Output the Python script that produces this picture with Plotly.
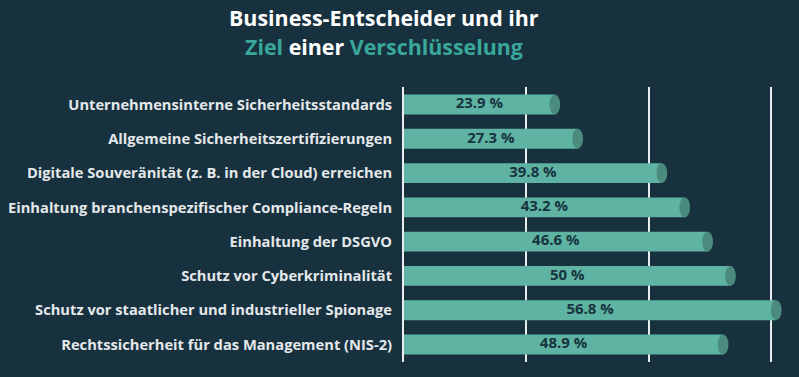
import plotly.graph_objects as go

categories = [
    "Unternehmensinterne Sicherheitsstandards",
    "Allgemeine Sicherheitszertifizierungen",
    "Digitale Souveränität (z. B. in der Cloud) erreichen",
    "Einhaltung branchenspezifischer Compliance-Regeln",
    "Einhaltung der DSGVO",
    "Schutz vor Cyberkriminalität",
    "Schutz vor staatlicher und industrieller Spionage",
    "Rechtssicherheit für das Management (NIS-2)",
]
values = [23.9, 27.3, 39.8, 43.2, 46.6, 50, 56.8, 48.9]
value_labels = ["23.9 %", "27.3 %", "39.8 %", "43.2 %", "46.6 %", "50 %", "56.8 %", "48.9 %"]
grid_vals = [19.6, 37.9, 56.0]

BG = "#17313f"
BAR = "#5fb3a3"
CAP = "#4a8b7d"
TXT_DARK = "#17343f"
LABEL = "#e4e8ea"
LINE = "#e8ecee"
TEAL_TITLE = "#3aa79b"
FONT = "Open Sans"

W, H = 799, 377
ML, MT, MB = 404, 87, 15
XMIN, XMAX = 1.49, 60.18

fig = go.Figure()
fig.add_trace(go.Bar(
    y=categories, x=values, orientation="h",
    marker=dict(color=BAR, line=dict(width=0)),
    width=0.58, textposition="none",
    hoverinfo="skip",
))
# value labels centred in visible bars
fig.add_trace(go.Scatter(
    y=categories, x=[(XMIN + v) / 2 for v in values], mode="text",
    text=value_labels, textposition="middle center",
    textfont=dict(family=FONT, size=15, color=TXT_DARK, weight="bold"),
    hoverinfo="skip",
))
# left dots at axis
fig.add_trace(go.Scatter(
    y=categories, x=[XMIN - 0.15] * len(categories), mode="markers",
    marker=dict(color="white", size=6), cliponaxis=False, hoverinfo="skip",
))

shapes = []
for i, v in enumerate(values):
    shapes.append(dict(
        type="circle", xref="x", yref="y",
        x0=v - 0.8, x1=v + 0.8, y0=i - 0.29, y1=i + 0.29,
        fillcolor=CAP, line=dict(width=0), layer="above",
    ))

plot_w = W - ML
plot_h = H - MT - MB

def px_to_paper_x(px):
    return (px - ML) / plot_w

def px_to_paper_y(py):
    return 1 + (MT - py) / plot_h

annotations = [
    dict(text="<b>Business-Entscheider und ihr</b>", x=px_to_paper_x(384), y=px_to_paper_y(17),
         xref="paper", yref="paper", xanchor="center", yanchor="middle",
         showarrow=False, font=dict(family=FONT, size=21.4, color="white")),
    dict(text=(f"<b><span style='color:{TEAL_TITLE}'>Ziel</span> einer "
               f"<span style='color:{TEAL_TITLE}'>Verschlüsselung</span></b>"),
         x=px_to_paper_x(384), y=px_to_paper_y(47),
         xref="paper", yref="paper", xanchor="center", yanchor="middle",
         showarrow=False, font=dict(family=FONT, size=21.4, color="white")),
]

fig.update_layout(
    width=W, height=H,
    paper_bgcolor=BG, plot_bgcolor=BG,
    margin=dict(l=ML, r=0, t=MT, b=MB),
    showlegend=False,
    bargap=0.42,
    shapes=shapes,
    annotations=annotations,
    xaxis=dict(
        range=[XMIN, XMAX], tickvals=grid_vals, showticklabels=False,
        showgrid=True, gridcolor=LINE, gridwidth=2,
        zeroline=False, fixedrange=True,
    ),
    yaxis=dict(
        autorange="reversed", showgrid=False, zeroline=False,
        showline=True, linecolor=LINE, linewidth=2,
        ticks="", ticklabelstandoff=7,
        tickfont=dict(family=FONT, size=14.7, color=LABEL, weight="bold"),
        fixedrange=True,
    ),
)

fig.write_html("out.html", config={"displayModeBar": False},
               post_script="document.body.style.margin='0';")
